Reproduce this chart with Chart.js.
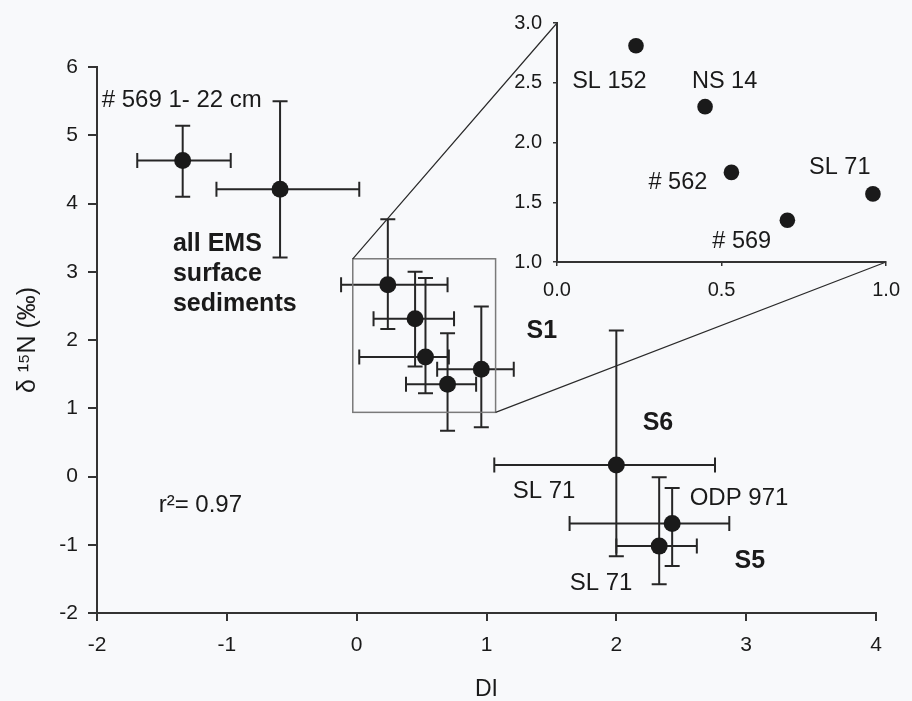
<!DOCTYPE html>
<html><head><meta charset="utf-8">
<script src="https://cdn.jsdelivr.net/npm/chart.js@4.4.1/dist/chart.umd.min.js"></script>
<style>
html,body{margin:0;padding:0;background:#f8f9fb;}
#wrap{position:relative;width:912px;height:701px;background:#f8f9fb;}
canvas{position:absolute;left:0;top:0;}
</style></head><body>
<div id="wrap"><canvas id="main" width="912" height="701"></canvas><canvas id="inset" width="912" height="701"></canvas></div>
<script>
// ---- main panel data ----
const sampleNames = ['# 569 1-22 cm', 'all EMS surface sediments', 'SL 152', 'NS 14', '# 562', '# 569', 'SL 71 (S1)', 'SL 71 (S6)', 'ODP 971', 'SL 71 (S5)'];
const diValues   = [-1.34, -0.59, 0.24, 0.45, 0.53, 0.70, 0.96, 2.00, 2.43, 2.33];
const d15NValues = [4.63, 4.21, 2.81, 2.31, 1.75, 1.35, 1.57, 0.17, -0.69, -1.02];
const diLow      = [-1.69, -1.08, -0.12, 0.13, 0.02, 0.38, 0.62, 1.06, 1.64, 2.00];
const diHigh     = [-0.97, 0.02, 0.70, 0.75, 0.71, 0.92, 1.21, 2.76, 2.87, 2.62];
const d15NLow    = [4.10, 3.21, 2.16, 1.61, 1.22, 0.67, 0.72, -1.17, -1.31, -1.58];
const d15NHigh   = [5.14, 5.50, 3.77, 3.00, 2.91, 2.10, 2.49, 2.14, -0.17, -0.01];
const mainXTicks = [-2, -1, 0, 1, 2, 3, 4];
const mainYTicks = [-2, -1, 0, 1, 2, 3, 4, 5, 6];

// ---- inset (S1 close-up) data ----
const insetNames = ['SL 152', 'NS 14', '# 562', '# 569', 'SL 71'];
const insetDI    = [0.24, 0.45, 0.53, 0.70, 0.96];
const insetD15N  = [2.81, 2.30, 1.75, 1.35, 1.57];
const insetXTicks = [0, 0.5, 1.0];
const insetYTicks = [1.0, 1.5, 2.0, 2.5, 3.0];

// zoom window in main data units
const zoomBox = {xMin: -0.03, xMax: 1.07, yMin: 0.94, yMax: 3.19};

// text annotations (anchor in data units, left / alphabetic baseline)
const mainNotes = [
  {text: '# 569 1- 22 cm', x: -1.964, y: 5.418, bold: false},
  {text: 'all EMS', x: -1.415, y: 3.311, bold: true},
  {text: 'surface', x: -1.415, y: 2.864, bold: true},
  {text: 'sediments', x: -1.415, y: 2.418, bold: true},
  {text: 'S1', x: 1.309, y: 2.025, bold: true},
  {text: 'S6', x: 2.203, y: 0.681, bold: true},
  {text: 'SL 71', x: 1.202, y: -0.319, bold: false},
  {text: 'ODP 971', x: 2.565, y: -0.418, bold: false},
  {text: 'S5', x: 2.911, y: -1.345, bold: true},
  {text: 'SL 71', x: 1.641, y: -1.663, bold: false},
  {text: 'r\u00B2= 0.97', x: -1.525, y: -0.516, bold: false}
];
const insetNotes = [
  {text: 'SL 152', x: 0.046, y: 2.456},
  {text: 'NS 14', x: 0.41, y: 2.456},
  {text: '# 562', x: 0.278, y: 1.611},
  {text: 'SL 71', x: 0.766, y: 1.739},
  {text: '# 569', x: 0.472, y: 1.117}
];

const FONT = "'Liberation Sans', Arial, Helvetica, sans-serif";
const INK = '#1a1a1a';
const AXIS = '#333333';

function fixedTicks(arr) { return (s) => { s.ticks = arr.map(v => ({value: v})); }; }

// ---------------- inset chart ----------------
const insetNotesPlugin = {
  id: 'insetNotes',
  afterDatasetsDraw(chart) {
    const {ctx, scales: {x, y}} = chart;
    ctx.save();
    ctx.fillStyle = INK;
    ctx.font = '23.5px ' + FONT;
    ctx.textBaseline = 'alphabetic';
    ctx.textAlign = 'left';
    insetNotes.forEach(n => ctx.fillText(n.text, x.getPixelForValue(n.x), y.getPixelForValue(n.y)));
    ctx.restore();
  }
};

const insetChart = new Chart(document.getElementById('inset'), {
  type: 'scatter',
  data: {datasets: [{
    label: 'S1 samples',
    data: insetDI.map((v, i) => ({x: v, y: insetD15N[i]})),
    backgroundColor: INK, borderColor: INK, borderWidth: 0, pointRadius: 7.8
  }]},
  options: {
    responsive: false, animation: false, events: [],
    layout: {padding: {left: 497, top: 23, right: 14, bottom: 399}},
    plugins: {legend: {display: false}, tooltip: {enabled: false}},
    scales: {
      x: {
        type: 'linear', min: 0, max: 1,
        afterBuildTicks: fixedTicks(insetXTicks),
        afterFit: s => { s.height = 40; },
        grid: {drawOnChartArea: false, drawTicks: true, tickLength: 4, color: AXIS, lineWidth: 1.5},
        border: {color: AXIS, width: 2},
        ticks: {color: INK, padding: 12, font: {size: 20, family: FONT}, callback: v => Number(v).toFixed(1), maxRotation: 0}
      },
      y: {
        type: 'linear', min: 1, max: 3,
        afterBuildTicks: fixedTicks(insetYTicks),
        afterFit: s => { s.width = 60; },
        grid: {drawOnChartArea: false, drawTicks: true, tickLength: 4, color: AXIS, lineWidth: 1.5},
        border: {color: AXIS, width: 2},
        ticks: {color: INK, padding: 11, font: {size: 20, family: FONT}, callback: v => Number(v).toFixed(1)}
      }
    }
  },
  plugins: [insetNotesPlugin]
});

// ---------------- main chart ----------------
const errorBarsPlugin = {
  id: 'errorBars',
  beforeDatasetsDraw(chart) {
    const {ctx, scales: {x, y}} = chart;
    const cap = 7.5;
    ctx.save();
    ctx.strokeStyle = '#262626';
    ctx.lineWidth = 2;
    diValues.forEach((v, i) => {
      const px = x.getPixelForValue(v), py = y.getPixelForValue(d15NValues[i]);
      const xl = x.getPixelForValue(diLow[i]), xh = x.getPixelForValue(diHigh[i]);
      const yl = y.getPixelForValue(d15NLow[i]), yh = y.getPixelForValue(d15NHigh[i]);
      ctx.beginPath();
      ctx.moveTo(xl, py); ctx.lineTo(xh, py);
      ctx.moveTo(xl, py - cap); ctx.lineTo(xl, py + cap);
      ctx.moveTo(xh, py - cap); ctx.lineTo(xh, py + cap);
      ctx.moveTo(px, yl); ctx.lineTo(px, yh);
      ctx.moveTo(px - cap, yl); ctx.lineTo(px + cap, yl);
      ctx.moveTo(px - cap, yh); ctx.lineTo(px + cap, yh);
      ctx.stroke();
    });
    // zoom window
    const bx0 = x.getPixelForValue(zoomBox.xMin), bx1 = x.getPixelForValue(zoomBox.xMax);
    const by0 = y.getPixelForValue(zoomBox.yMax), by1 = y.getPixelForValue(zoomBox.yMin);
    ctx.strokeStyle = '#7a7a7a';
    ctx.lineWidth = 1.5;
    ctx.strokeRect(bx0, by0, bx1 - bx0, by1 - by0);
    // connectors to inset axes corners
    const ix = insetChart.scales.x, iy = insetChart.scales.y;
    ctx.strokeStyle = '#2a2a2a';
    ctx.lineWidth = 1.2;
    ctx.beginPath();
    ctx.moveTo(bx0, by0); ctx.lineTo(ix.getPixelForValue(insetXTicks[0]), iy.getPixelForValue(insetYTicks[insetYTicks.length - 1]));
    ctx.moveTo(bx1, by1); ctx.lineTo(ix.getPixelForValue(insetXTicks[insetXTicks.length - 1]), iy.getPixelForValue(insetYTicks[0]));
    ctx.stroke();
    ctx.restore();
  },
  afterDatasetsDraw(chart) {
    const {ctx, scales: {x, y}} = chart;
    ctx.save();
    ctx.fillStyle = INK;
    ctx.textBaseline = 'alphabetic';
    ctx.textAlign = 'left';
    mainNotes.forEach(n => {
      ctx.font = (n.bold ? 'bold 25px ' : '24px ') + FONT;
      ctx.fillText(n.text, x.getPixelForValue(n.x), y.getPixelForValue(n.y));
    });
    ctx.restore();
  }
};

const mainChart = new Chart(document.getElementById('main'), {
  type: 'scatter',
  data: {datasets: [{
    label: 'samples',
    data: diValues.map((v, i) => ({x: v, y: d15NValues[i]})),
    backgroundColor: INK, borderColor: INK, borderWidth: 0, pointRadius: 8.5
  }]},
  options: {
    responsive: false, animation: false, events: [],
    layout: {padding: {left: 0, top: 67, right: 36, bottom: 0}},
    plugins: {legend: {display: false}, tooltip: {enabled: false}},
    scales: {
      x: {
        type: 'linear', min: -2, max: 4,
        afterBuildTicks: fixedTicks(mainXTicks),
        afterFit: s => { s.height = 88; },
        grid: {drawOnChartArea: false, drawTicks: true, tickLength: 8, color: AXIS, lineWidth: 2},
        border: {color: AXIS, width: 2},
        ticks: {color: INK, padding: 12, font: {size: 21, family: FONT}, maxRotation: 0},
        title: {display: true, text: 'DI', color: INK, font: {size: 23, family: FONT, lineHeight: 1.0}, padding: {top: 0, bottom: 0}}
      },
      y: {
        type: 'linear', min: -2, max: 6,
        afterBuildTicks: fixedTicks(mainYTicks),
        afterFit: s => { s.width = 97; },
        grid: {drawOnChartArea: false, drawTicks: true, tickLength: 9, color: AXIS, lineWidth: 2},
        border: {color: AXIS, width: 2},
        ticks: {color: INK, padding: 10, font: {size: 21, family: FONT}},
        title: {display: true, text: '\u03B4 \u00B9\u2075N (\u2030)', color: INK, font: {size: 25, family: FONT, lineHeight: 1.2}, padding: {top: 13, bottom: 0}}
      }
    }
  },
  plugins: [errorBarsPlugin]
});
</script>
</body></html>
